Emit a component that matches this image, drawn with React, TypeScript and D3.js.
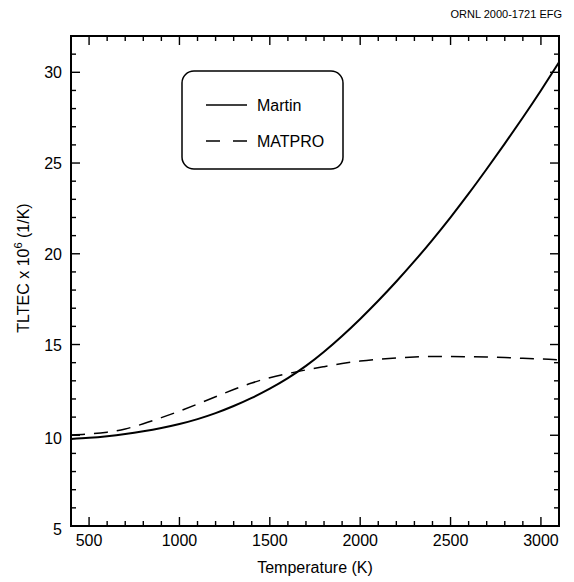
import React from "react";
import * as d3 from "d3";

const temperatures = [400, 500, 600, 700, 800, 900, 1000, 1100, 1200, 1300, 1400, 1500, 1600, 1700, 1800, 1900, 2000, 2100, 2200, 2300, 2400, 2500, 2600, 2700, 2800, 2900, 3000, 3100];
const martin = [9.8, 9.86, 9.95, 10.07, 10.22, 10.4, 10.62, 10.89, 11.22, 11.61, 12.06, 12.57, 13.15, 13.82, 14.6, 15.47, 16.41, 17.41, 18.47, 19.59, 20.77, 22.01, 23.31, 24.67, 26.07, 27.51, 29.0, 30.55];
const matpro = [10.02, 10.07, 10.17, 10.35, 10.63, 10.97, 11.33, 11.72, 12.12, 12.52, 12.88, 13.17, 13.4, 13.6, 13.78, 13.95, 14.09, 14.19, 14.26, 14.31, 14.34, 14.34, 14.33, 14.31, 14.28, 14.24, 14.2, 14.16];
const xMajorTicks = [500, 1000, 1500, 2000, 2500, 3000];
const yMajorTicks = [5, 10, 15, 20, 25, 30];
const seriesNames = ["Martin", "MATPRO"];

const W = 574, H = 582;
const left = 71, right = 559, top = 36, bottom = 526;
const FONT = "'Liberation Sans', Arial, Helvetica, sans-serif";

export default function App() {
  const x = d3.scaleLinear().domain([400, 3100]).range([left, right]);
  const y = d3.scaleLinear().domain([5, 32]).range([bottom, top]);
  const xMinor = d3.range(400, 3101, 100).filter((v) => v % 500 !== 0);
  const yMinor = d3.range(5, 33, 1).filter((v) => v % 5 !== 0);

  const line = d3
    .line<number>()
    .x((_, i) => x(temperatures[i]))
    .y((d) => y(d))
    .curve(d3.curveNatural);

  const majorLen = 9, minorLen = 5;
  const yLabelOffset = (t: number) => (t === 5 ? 3 : t === 10 ? 3 : 0);

  return (
    <svg width={W} height={H} style={{ position: "absolute", left: 0, top: 0, background: "#fff" }} fontFamily={FONT}>
      <rect x={0} y={0} width={W} height={H} fill="#fff" />
      <text x={562} y={18} fontSize={11} textAnchor="end" fill="#000">ORNL 2000-1721 EFG</text>

      <g stroke="#000" strokeWidth={1.4}>
        {xMajorTicks.map((t) => (
          <g key={"xM" + t}>
            <line x1={x(t)} x2={x(t)} y1={bottom} y2={bottom - majorLen} />
            <line x1={x(t)} x2={x(t)} y1={top} y2={top + majorLen} />
          </g>
        ))}
        {xMinor.map((t) => (
          <g key={"xm" + t}>
            <line x1={x(t)} x2={x(t)} y1={bottom} y2={bottom - minorLen} />
            <line x1={x(t)} x2={x(t)} y1={top} y2={top + minorLen} />
          </g>
        ))}
        {yMajorTicks.map((t) => (
          <g key={"yM" + t}>
            <line x1={left} x2={left + majorLen} y1={y(t)} y2={y(t)} />
            <line x1={right} x2={right - majorLen} y1={y(t)} y2={y(t)} />
          </g>
        ))}
        {yMinor.map((t) => (
          <g key={"ym" + t}>
            <line x1={left} x2={left + minorLen} y1={y(t)} y2={y(t)} />
            <line x1={right} x2={right - minorLen} y1={y(t)} y2={y(t)} />
          </g>
        ))}
      </g>

      <path d={line(martin) || ""} fill="none" stroke="#000" strokeWidth={2} />
      <path d={line(matpro) || ""} fill="none" stroke="#000" strokeWidth={1.5} strokeDasharray="14,9" />

      <rect x={left} y={top} width={right - left} height={bottom - top} fill="none" stroke="#000" strokeWidth={2} />

      {xMajorTicks.map((t) => (
        <text key={"xl" + t} x={x(t)} y={546} fontSize={16} textAnchor="middle" fill="#000">{t}</text>
      ))}
      {yMajorTicks.map((t) => (
        <text key={"yl" + t} x={62} y={y(t) + 6 + yLabelOffset(t)} fontSize={16} textAnchor="end" fill="#000">{t}</text>
      ))}

      <text x={(left + right) / 2} y={573} fontSize={16} textAnchor="middle" fill="#000">Temperature (K)</text>
      <text transform={`translate(28.5, 268) rotate(-90)`} fontSize={16} textAnchor="middle" fill="#000">
        TLTEC x 10<tspan fontSize={11} dy={-7}>6</tspan><tspan dy={7}> (1/K)</tspan>
      </text>

      <rect x={182} y={71} width={161} height={98} rx={12} ry={12} fill="#fff" stroke="#000" strokeWidth={1.5} />
      <line x1={206} x2={247} y1={105} y2={105} stroke="#000" strokeWidth={1.3} />
      <text x={257} y={111} fontSize={16} fill="#000">{seriesNames[0]}</text>
      <line x1={206} x2={247} y1={141} y2={141} stroke="#000" strokeWidth={1.3} strokeDasharray="14,13" />
      <text x={257} y={147} fontSize={16} fill="#000">{seriesNames[1]}</text>
    </svg>
  );
}
